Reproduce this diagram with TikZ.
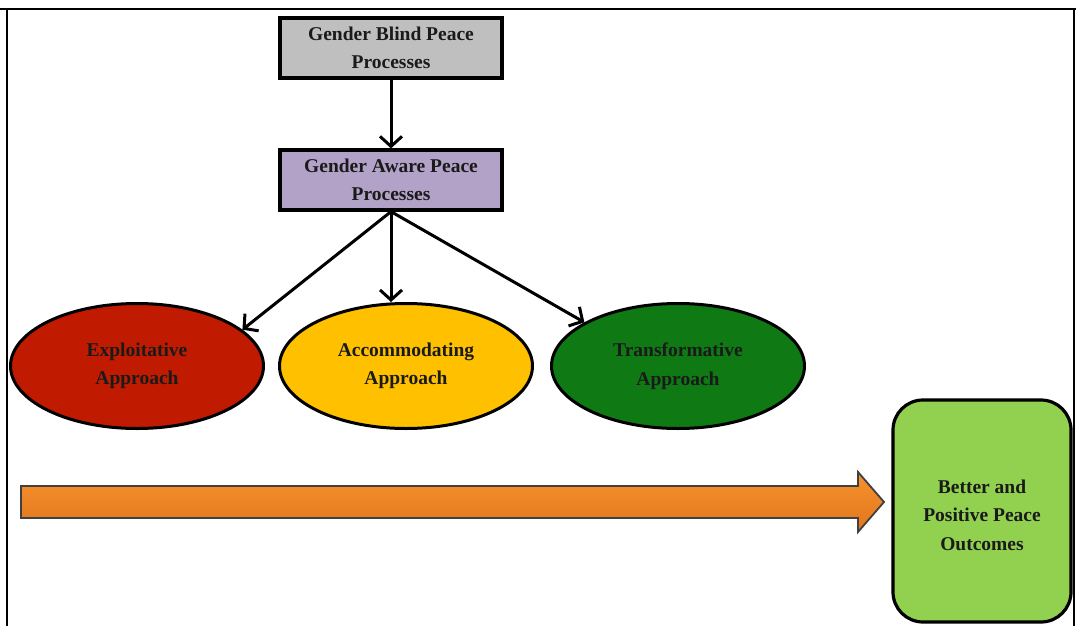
\documentclass[tikz,border=0pt]{standalone}
\usepackage{fontspec}
\setmainfont{Liberation Serif}
\usetikzlibrary{shapes.geometric,arrows.meta}
\definecolor{blindgray}{HTML}{BFBFBF}
\definecolor{awarepurple}{HTML}{B3A2C7}
\definecolor{expred}{HTML}{C01A00}
\definecolor{accyellow}{HTML}{FFC000}
\definecolor{transgreen}{HTML}{0F7A14}
\definecolor{outgreen}{HTML}{92D050}
\definecolor{orangetop}{HTML}{F7922E}
\definecolor{orangebot}{HTML}{E0761C}
\definecolor{txt}{HTML}{1A1A1A}
\tikzset{
  lbl/.style={font=\bfseries\fontsize{19.5}{28.5}\selectfont, text=txt, align=center},
  procbox/.style={lbl, draw=black, line width=3.2pt, minimum width=222pt, minimum height=60pt, inner sep=0pt},
  approach/.style={lbl, ellipse, draw=black, line width=3pt, minimum width=253pt, minimum height=125pt, inner sep=0pt},
  outbox/.style={lbl, draw=black, line width=3.2pt, rounded corners=30pt},
  link/.style={draw=black, line width=3pt, -{Straight Barb[length=10pt,width=22pt]}},
  frame/.style={draw=black, line width=2.5pt}
}
\begin{document}
\begin{tikzpicture}[x=1pt,y=-1pt]
\useasboundingbox (0,0) rectangle (1076,626);
% frame
\draw[frame] (0,9) -- (1076,9);
\draw[frame] (7,9) -- (7,626);
\draw[frame] (1074,9) -- (1074,626);
% process boxes
\node[procbox, fill=blindgray] (blind) at (391,48) {Gender Blind Peace\\Processes};
\node[procbox, fill=awarepurple] (aware) at (391,180) {Gender Aware Peace\\Processes};
% approaches
\node[approach, fill=expred] (exp) at (137,366) {Exploitative\\Approach};
\node[approach, fill=accyellow] (acc) at (406,366) {Accommodating\\Approach};
\node[approach, fill=transgreen] (trans) at (678,366) {Transformative\\Approach};
% connectors
\draw[link] (blind.south) -- (aware.north);
\draw[link] (aware.south) -- (exp.19);
\draw[link] (aware.south) -- (aware.south |- acc.north);
\draw[link] (aware.south) -- (trans.155);
% outcome box
\draw[outbox, fill=outgreen] (893,400) rectangle (1071,622);
\node[lbl] (outcome) at (982,515) {Better and\\Positive Peace\\Outcomes};
% big orange arrow
\draw[draw=black!75, line width=1.8pt, top color=orangetop, bottom color=orangebot, line join=miter]
  (21,486) -- (858,486) -- (858,472) -- (884,502) -- (858,532) -- (858,518) -- (21,518) -- cycle;
\end{tikzpicture}
\end{document}
